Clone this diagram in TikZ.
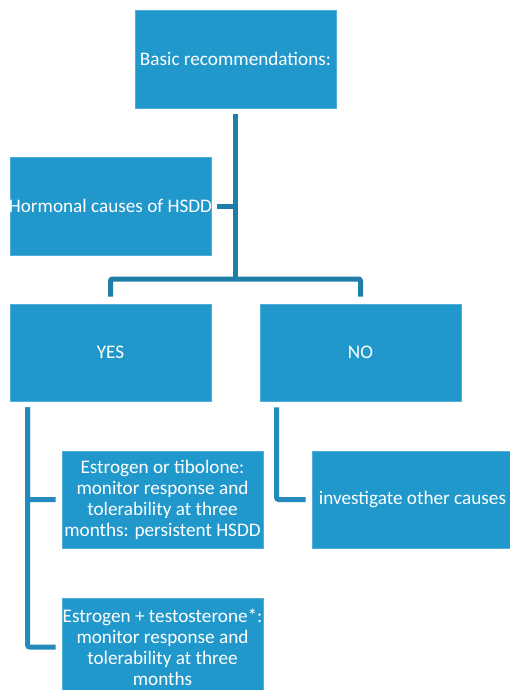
\documentclass[tikz,border=0pt]{standalone}
\usepackage{fontspec}
\setmainfont{Carlito}
\definecolor{boxfill}{RGB}{33,152,203}
\definecolor{boxedge}{RGB}{80,175,218}
\definecolor{connA}{RGB}{30,126,168}
\definecolor{connB}{RGB}{36,137,188}
\begin{document}
\begin{tikzpicture}[x=1pt,y=-1pt,
  box/.style={draw=boxedge, line width=0.8pt, fill=boxfill, text=white,
    minimum width=201pt, minimum height=97pt, inner sep=0pt, align=center,
    font=\fontsize{19.2}{21}\selectfont},
  conn/.style={line width=5pt, rounded corners=2pt}]
\useasboundingbox (0,0) rectangle (509,690);
\node[box, minimum height=98pt] (top) at (235.5,59) {Basic recommendations:};
\node[box, minimum height=98pt] (horm) at (110.5,206) {\makebox[201pt]{Hormonal causes of HSDD}};
\node[box] (yes) at (110.5,352.5) {YES};
\node[box] (no) at (360.5,352.5) {NO};
\node[box] (e1) at (162.5,499.5) {Estrogen or tibolone:\\monitor response and\\tolerability at three\\months: persistent HSDD};
\node[box] (inv) at (412.5,499.5) {investigate other causes};
\node[box, minimum height=98pt] (e2) at (162.5,647) {\makebox[201pt]{Estrogen + testosterone*:}\\monitor response and\\tolerability at three\\months};
\coordinate (j) at (235.5,279);
\draw[conn, connA] ([yshift=-6pt]top.south) -- (j);
\draw[conn, connA] ([xshift=6pt]horm.east) -- (horm.east -| j);
\draw[conn, connA] ([yshift=7pt]yes.north) |- (j) -| ([yshift=7pt]no.north);
\draw[conn, connB] ([xshift=18pt,yshift=-6pt]yes.south west) |- ([xshift=-6pt]e1.west);
\draw[conn, connB] ([xshift=18pt,yshift=-6pt]yes.south west) |- ([xshift=-6pt]e2.west);
\draw[conn, connB] ([xshift=17pt,yshift=-6pt]no.south west) |- ([xshift=-6pt]inv.west);
\end{tikzpicture}
\end{document}
